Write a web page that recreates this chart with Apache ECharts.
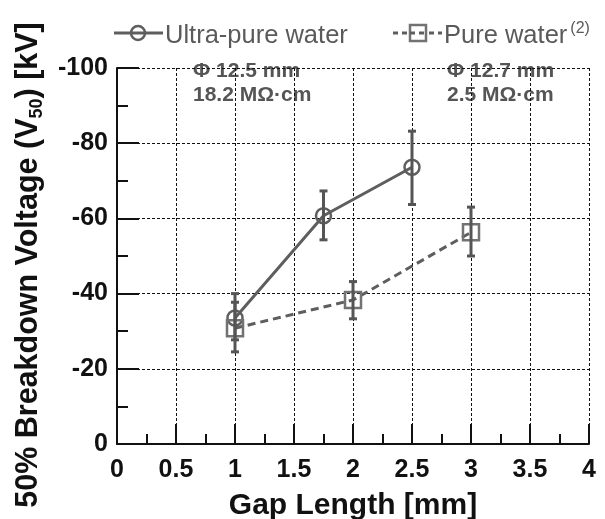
<!DOCTYPE html>
<html><head><meta charset="utf-8">
<script src="https://cdn.jsdelivr.net/npm/echarts@6/dist/echarts.min.js"></script>
<style>html,body{margin:0;padding:0;background:#fff}#c{width:605px;height:519px}</style>
</head><body><div id="c"></div>
<script>
// Data
const seriesNames = ['Ultra-pure water', 'Pure water'];
const ultraGap = [1, 1.75, 2.5];
const ultraV50 = [-33.5, -60.7, -73.6];
const ultraLow = [-27.7, -54.3, -63.7];
const ultraHigh = [-40.0, -67.3, -83.2];
const pureGap = [1, 2, 3];
const pureV50 = [-30.8, -38.3, -56.3];
const pureLow = [-24.5, -33.3, -50.0];
const pureHigh = [-37.7, -43.2, -63.0];
const annot1 = ['Φ 12.5 mm', '18.2 MΩ·cm'];
const annot2 = ['Φ 12.7 mm', '2.5 MΩ·cm'];

const FONT = '"Liberation Sans", Arial, Helvetica, sans-serif';
const LINEC = '#5e5e5e';
const chart = echarts.init(document.getElementById('c'), null, {renderer: 'canvas'});

function zip(a, b) { return a.map((v, i) => [v, b[i]]); }
function errData(x, lo, hi) { return x.map((v, i) => [v, lo[i], hi[i]]); }
function errRender(params, api) {
  const x = api.value(0);
  const p1 = api.coord([x, api.value(1)]);
  const p2 = api.coord([x, api.value(2)]);
  const hw = 4;
  const st = {stroke: '#555', lineWidth: 3};
  return {type: 'group', children: [
    {type: 'line', shape: {x1: p1[0], y1: p1[1], x2: p2[0], y2: p2[1]}, style: st},
    {type: 'line', shape: {x1: p1[0]-hw, y1: p1[1], x2: p1[0]+hw, y2: p1[1]}, style: st},
    {type: 'line', shape: {x1: p2[0]-hw, y1: p2[1], x2: p2[0]+hw, y2: p2[1]}, style: st}
  ]};
}

const legendText = {fontFamily: FONT, fontSize: 25.5, fill: '#5a5a5a', verticalAlign: 'middle'};

const option = {
  animation: false,
  backgroundColor: '#fff',
  grid: {left: 117, right: 16, top: 68, bottom: 75, containLabel: false, outerBoundsMode: 'none'},
  xAxis: {
    type: 'value', min: 0, max: 4, interval: 0.5,
    axisLine: {show: true, onZero: false, lineStyle: {color: '#111', width: 2}},
    axisTick: {show: true, inside: true, length: 20, lineStyle: {color: '#111', width: 2}},
    minorTick: {show: true, splitNumber: 2, length: 10, lineStyle: {color: '#111', width: 2}},
    splitLine: {show: true, lineStyle: {color: '#111', width: 1, type: [3, 2]}},
    axisLabel: {fontFamily: FONT, fontWeight: 'bold', fontSize: 25, color: '#111', margin: 14},
    name: 'Gap Length [mm]', nameLocation: 'middle', nameGap: 47,
    nameTextStyle: {fontFamily: FONT, fontWeight: 'bold', fontSize: 30, color: '#111'}
  },
  yAxis: {
    type: 'value', min: -100, max: 0, interval: 20, inverse: true,
    axisLine: {show: true, onZero: false, lineStyle: {color: '#111', width: 2}},
    axisTick: {show: true, inside: true, length: 22, lineStyle: {color: '#111', width: 2}},
    minorTick: {show: true, splitNumber: 2, length: 11, lineStyle: {color: '#111', width: 2}},
    splitLine: {show: true, lineStyle: {color: '#111', width: 1, type: [3, 2]}},
    axisLabel: {fontFamily: FONT, fontWeight: 'bold', fontSize: 25, color: '#111', margin: 9}
  },
  graphic: [
    {type: 'text', x: 29, y: 265, rotation: Math.PI / 2,
      style: {text: '50% Breakdown Voltage (V{sub|50}) [kV]', fontFamily: FONT, fontWeight: 'bold', fontSize: 30.5,
        fill: '#111', align: 'center', verticalAlign: 'middle',
        rich: {sub: {fontFamily: FONT, fontWeight: 'bold', fontSize: 18, fill: '#111', verticalAlign: 'bottom', lineHeight: 34}}}},
    {type: 'text', x: 193, y: 59,
      style: {text: annot1.join('\n'), fontFamily: FONT, fontWeight: 'bold', fontSize: 21, fill: '#555', lineHeight: 24}},
    {type: 'text', x: 447, y: 59,
      style: {text: annot2.join('\n'), fontFamily: FONT, fontWeight: 'bold', fontSize: 21, fill: '#555', lineHeight: 24}},
    // legend: Ultra-pure water
    {type: 'line', shape: {x1: 114, y1: 33, x2: 163, y2: 33}, style: {stroke: LINEC, lineWidth: 3}},
    {type: 'circle', shape: {cx: 138, cy: 33, r: 7}, style: {stroke: LINEC, lineWidth: 2.5, fill: 'rgba(255,255,255,0)'}},
    {type: 'text', x: 165, y: 36, style: Object.assign({text: seriesNames[0]}, legendText)},
    // legend: Pure water
    {type: 'line', shape: {x1: 393, y1: 33, x2: 442, y2: 33}, style: {stroke: LINEC, lineWidth: 3, lineDash: [5, 4]}},
    {type: 'rect', shape: {x: 410, y: 25, width: 16, height: 16}, style: {stroke: '#727272', lineWidth: 2.5, fill: '#fff'}},
    {type: 'line', shape: {x1: 410, y1: 33, x2: 426, y2: 33}, style: {stroke: LINEC, lineWidth: 3, lineDash: [5, 4]}},
    {type: 'text', x: 444, y: 36, style: Object.assign({text: seriesNames[1] + '{sup|(2)}',
      rich: {sup: {fontFamily: FONT, fontSize: 16, fill: '#5a5a5a', verticalAlign: 'top', lineHeight: 30, padding: [0, 0, 0, 3]}}}, legendText)}
  ],
  series: [
    {name: seriesNames[0], type: 'line', data: zip(ultraGap, ultraV50), symbol: 'circle', symbolSize: 15,
      lineStyle: {color: LINEC, width: 3},
      itemStyle: {color: 'rgba(255,255,255,0)', borderColor: LINEC, borderWidth: 2.5}, z: 3},
    {name: seriesNames[1], type: 'line', data: zip(pureGap, pureV50), symbol: 'rect', symbolSize: 16,
      lineStyle: {color: LINEC, width: 3, type: [8, 5]},
      itemStyle: {color: 'rgba(255,255,255,0)', borderColor: '#727272', borderWidth: 2.5}, z: 3},
    {type: 'custom', data: errData(ultraGap, ultraLow, ultraHigh), renderItem: errRender, z: 4, silent: true},
    {type: 'custom', data: errData(pureGap, pureLow, pureHigh), renderItem: errRender, z: 4, silent: true}
  ]
};
chart.setOption(option);
</script></body></html>
